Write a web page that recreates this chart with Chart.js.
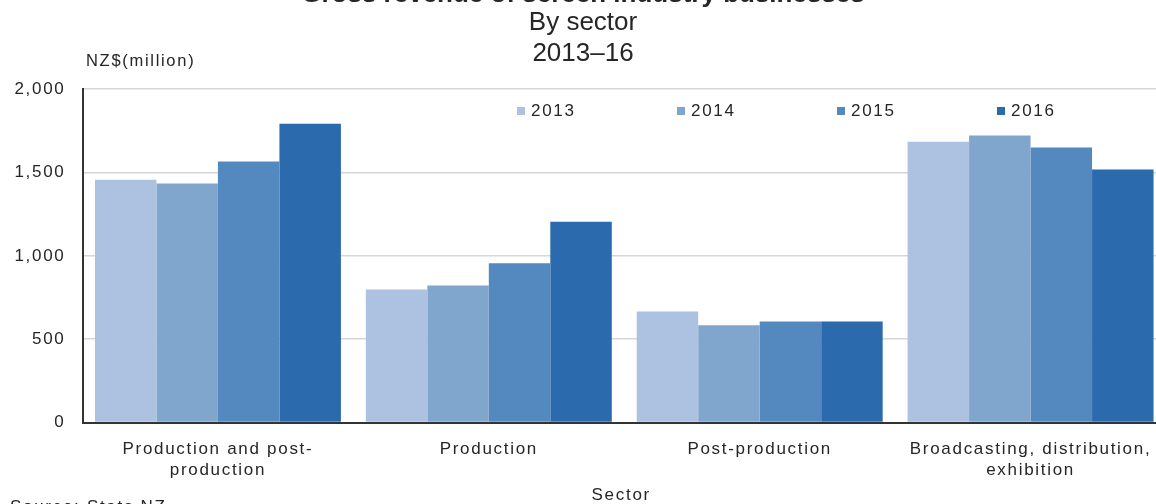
<!DOCTYPE html>
<html>
<head>
<meta charset="utf-8">
<script src="https://cdn.jsdelivr.net/npm/chart.js@4/dist/chart.umd.min.js"></script>
<style>
  html, body { margin: 0; padding: 0; background: #ffffff; overflow: hidden; }
  #wrap { position: relative; width: 1156px; height: 504px; overflow: hidden; background: #fff; }
  #c { position: absolute; left: 0; top: -40px; }
</style>
</head>
<body>
<div id="wrap"><canvas id="c" width="1186" height="544"></canvas></div>
<script>
// ---- data ----
const categories = [
  ["Production and post-", "production"],
  "Production",
  "Post-production",
  ["Broadcasting, distribution,", "exhibition"]
];
const years = ["2013", "2014", "2015", "2016"];
const values2013 = [1456, 798, 666, 1684];
const values2014 = [1434, 822, 584, 1722];
const values2015 = [1566, 955, 606, 1650];
const values2016 = [1793, 1205, 606, 1518];
const yTickValues = [0, 500, 1000, 1500, 2000];
const titleText = "Gross revenue of screen industry businesses";
const subtitleLines = ["By sector", "2013\u201316"];
const yUnitLabel = "NZ$(million)";
const xAxisLabel = "Sector";
const sourceText = "Source: Stats NZ";

const colors = ["#adc2e0", "#80a6ce", "#5489c0", "#2b6aad"];
const seriesValues = [values2013, values2014, values2015, values2016];
const TEXT = "#262626";
const FONT = "'Liberation Sans', Arial, sans-serif";
const SPACING = "1.7px";

const extras = {
  id: "extras",
  beforeDraw(chart) { chart.ctx.letterSpacing = "0px"; },
  beforeDatasetsDraw(chart) { chart.ctx.letterSpacing = SPACING; },
  afterDraw(chart) {
    const ctx = chart.ctx;
    const ca = chart.chartArea;
    ctx.save();
    ctx.letterSpacing = SPACING;
    ctx.fillStyle = TEXT;
    ctx.textBaseline = "middle";
    // unit label
    ctx.font = "16.5px " + FONT;
    ctx.textAlign = "left";
    ctx.fillText(yUnitLabel, 86, 101);
    // x axis title
    ctx.font = "17px " + FONT;
    ctx.textAlign = "center";
    ctx.fillText(xAxisLabel, (ca.left + ca.right) / 2 - 3, 535);
    // source
    ctx.textAlign = "left";
    ctx.fillText(sourceText, 10, 547);
    // legend
    chart.data.datasets.forEach((ds, i) => {
      const tx = 531 + i * 160;
      const ty = 151;
      ctx.fillStyle = ds.backgroundColor;
      ctx.fillRect(tx - 14, ty - 4, 8, 8);
      ctx.fillStyle = TEXT;
      ctx.font = "17px " + FONT;
      ctx.textAlign = "left";
      ctx.fillText(ds.label, tx, ty);
    });
    ctx.restore();
  }
};

new Chart(document.getElementById("c"), {
  type: "bar",
  data: {
    labels: categories,
    datasets: years.map((y, i) => ({
      label: y,
      data: seriesValues[i],
      backgroundColor: colors[i],
      borderWidth: 0,
      categoryPercentage: 0.908,
      barPercentage: 1.0
    }))
  },
  options: {
    responsive: false,
    animation: false,
    devicePixelRatio: 1,
    layout: { padding: { top: 0, left: 0, right: 20, bottom: 0 } },
    plugins: {
      legend: { display: false },
      tooltip: { enabled: false },
      title: {
        display: true,
        text: titleText,
        color: TEXT,
        font: { family: FONT, size: 26, weight: "bold", lineHeight: 0.55 },
        padding: { top: 28, bottom: 0 }
      },
      subtitle: {
        display: true,
        text: subtitleLines,
        color: TEXT,
        font: { family: FONT, size: 26, weight: "normal", lineHeight: 1.19 },
        padding: { top: 5, bottom: 20 }
      }
    },
    scales: {
      x: {
        grid: { display: false, drawTicks: false },
        border: { display: true, color: "#333333", width: 2, z: 1 },
        ticks: {
          color: TEXT,
          font: { family: FONT, size: 17, lineHeight: 1.235 },
          padding: 16,
          maxRotation: 0,
          autoSkip: false,
          z: 1
        },
        afterFit(scale) { scale.height = 81.5; }
      },
      y: {
        min: 0,
        max: 2000,
        afterBuildTicks(scale) { scale.ticks = yTickValues.map(v => ({ value: v })); },
        grid: { color: "#d6d6d6", lineWidth: 1.5, drawTicks: false },
        border: { display: true, color: "#333333", width: 2, z: 1 },
        ticks: {
          color: TEXT,
          font: { family: FONT, size: 17 },
          padding: 17,
          z: 1,
          callback: (v) => Number(v).toLocaleString("en-US")
        },
        afterFit(scale) { scale.width = 82.5; }
      }
    }
  },
  plugins: [extras]
});
</script>
</body>
</html>
